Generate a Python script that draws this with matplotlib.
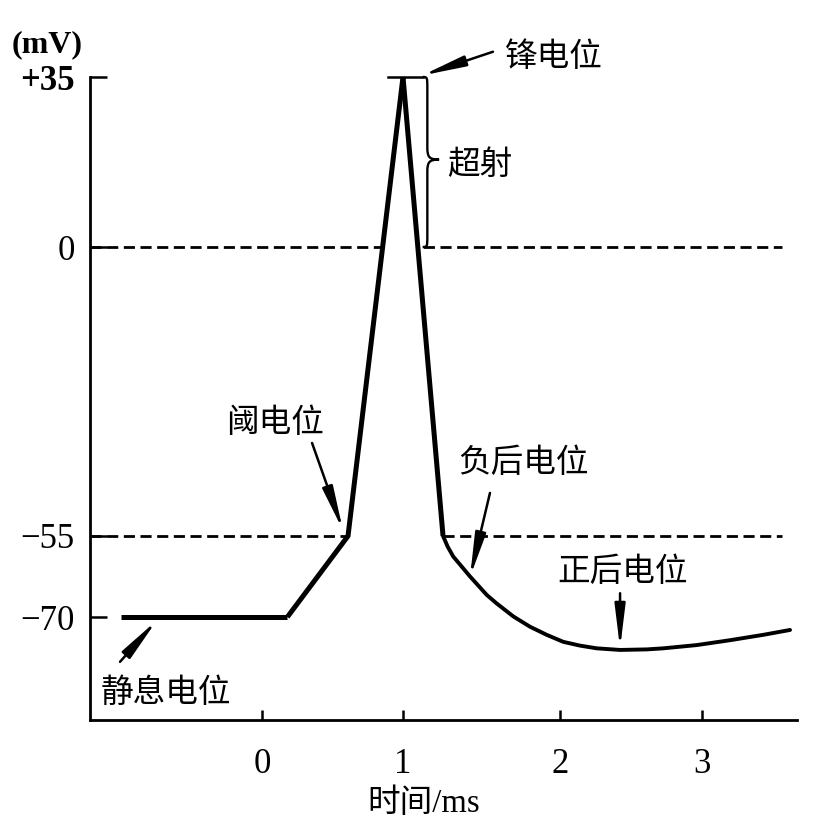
import numpy as np
import matplotlib
matplotlib.use("Agg")
import matplotlib.pyplot as plt
from matplotlib.path import Path
from matplotlib.patches import PathPatch, Polygon

plt.rcParams['font.family'] = ['Liberation Serif', 'Noto Sans CJK SC', 'DejaVu Sans']

# ---------------- data ----------------
# membrane potential trace (time in ms, potential in mV)
baseline_t = [-1.0, 0.18]
baseline_v = [-70, -70]
rise_t = [0.18, 0.61, 1.0]
rise_v = [-70, -55, 35]
fall_t = [1.0, 1.255]
fall_v = [35, -55]
after_t = [1.255, 1.285, 1.320, 1.427, 1.533, 1.597, 1.703, 1.809, 1.915, 2.023, 2.141,
           2.258, 2.423, 2.611, 2.728, 2.963, 3.197, 3.432, 3.62]
after_v = [-55, -57.0, -58.8, -62.5, -65.9, -67.5, -69.9, -71.8, -73.3, -74.6, -75.3,
           -75.8, -76.1, -76.0, -75.8, -75.2, -74.3, -73.3, -72.4]

ref_levels = [0, -55]          # dashed reference lines
ref_end = 3.56
peak_v = 35
threshold_t = 0.61
threshold_v = -55

x_ticks = [0, 1, 2, 3]
x_ticklabels = ['0', '1', '2', '3']
y_ticks = [35, 0, -55, -70]
y_ticklabels = ['+35', '0', '\u221255', '\u221270']

# schematic (non-uniform) axis scales of the drawing: value -> drawing position
x_scale_vals = [-5, 0, 1, 2, 3, 8]
x_scale_pos = [-443, 262, 403, 560, 702, 1412]
y_scale_vals = [-200, -70, -55, 0, 35, 200]
y_scale_pos = [1319, 617, 536, 247, 77, -724]

# ---------------- scales ----------------
XV = np.array(x_scale_vals, float); XP = np.array(x_scale_pos, float)
YV = np.array(y_scale_vals, float); YP = -np.array(y_scale_pos, float)

def fx(v):
    return np.interp(np.asarray(v, float), XV, XP)
def ix(u):
    return np.interp(np.asarray(u, float), XP, XV)
def fy(v):
    return np.interp(np.asarray(v, float), YV, YP)
def iy(u):
    return np.interp(np.asarray(u, float), YP, YV)

W, H = 822, 832
fig = plt.figure(figsize=(W / 100, H / 100), dpi=100)
ax = fig.add_axes([90 / W, (H - 720) / H, 707 / W, (720 - 77) / H])
ax.set_xscale('function', functions=(fx, ix))
ax.set_yscale('function', functions=(fy, iy))
ax.set_xlim(ix(90), ix(797))
ax.set_ylim(iy(-720), iy(-77))

for s in ['top', 'right']:
    ax.spines[s].set_visible(False)
for s in ['left', 'bottom']:
    ax.spines[s].set_linewidth(2.0)

ax.set_xticks(x_ticks)
ax.set_xticklabels(x_ticklabels)
ax.set_yticks(y_ticks)
ax.set_yticklabels(y_ticklabels)
ax.tick_params(axis='x', direction='in', length=7, width=1.8, pad=20, labelsize=25)
ax.tick_params(axis='y', direction='in', length=12, width=1.8, pad=11, labelsize=25)
ax.get_yticklabels()[0].set_fontweight('bold')
ax.xaxis.set_minor_locator(matplotlib.ticker.NullLocator())
ax.yaxis.set_minor_locator(matplotlib.ticker.NullLocator())

# ---------------- reference dashed lines ----------------
x_left = ax.get_xlim()[0]
dash = dict(color='black', lw=2.0, ls=(0, (4, 2)), zorder=1)
ax.plot([x_left, ref_end], [ref_levels[0]] * 2, **dash)
ax.plot([x_left, threshold_t], [ref_levels[1]] * 2, **dash)
ax.plot([fall_t[-1], ref_end], [ref_levels[1]] * 2, **dash)

# white inside of the spike hides the dashed line
ax.add_patch(Polygon([[rise_t[1], rise_v[1]], [rise_t[2], rise_v[2]], [fall_t[1], fall_v[1]]],
                     closed=True, facecolor='white', edgecolor='none', zorder=2))

# ---------------- trace ----------------
lw_trace = 3.6
kw = dict(color='black', solid_joinstyle='miter', solid_capstyle='butt', zorder=3, clip_on=False)
ax.plot(baseline_t, baseline_v, lw=lw_trace, **kw)
ax.plot(rise_t, rise_v, lw=lw_trace, **kw)
ax.plot(fall_t, fall_v, lw=lw_trace, **kw)
ax.plot(after_t, after_v, lw=2.8, color='black', solid_joinstyle='round',
        solid_capstyle='round', zorder=3, clip_on=False)

# peak marker line
ax.plot([0.894, 1.127], [peak_v, peak_v], color='black', lw=1.8, zorder=3, clip_on=False)

# ---------------- brace for overshoot ----------------
xl, xt, xe = 1.155, 1.23, 1.125
yt, yb, ym = peak_v, 0, 18
verts = [(xe, yt), (xl, yt), (xl, yt), (xl, yt - 2.5),
         (xl, ym + 2.5),
         (xl, ym + 0.5), (xl + 0.012, ym), (xt, ym),
         (xl + 0.012, ym), (xl, ym - 0.5), (xl, ym - 2.5),
         (xl, yb + 2.5),
         (xl, yb), (xl, yb), (xe, yb)]
codes = [Path.MOVETO, Path.CURVE4, Path.CURVE4, Path.CURVE4,
         Path.LINETO,
         Path.CURVE4, Path.CURVE4, Path.CURVE4,
         Path.CURVE4, Path.CURVE4, Path.CURVE4,
         Path.LINETO,
         Path.CURVE4, Path.CURVE4, Path.CURVE4]
ax.add_patch(PathPatch(Path(verts, codes), facecolor='none', edgecolor='black', lw=1.7,
                       zorder=3, clip_on=False))

# ---------------- annotations ----------------
cjk = ['Noto Sans CJK SC', 'DejaVu Sans']
fs = 23.5
arrow = dict(arrowstyle='-|>,head_length=1.3,head_width=0.16', color='black', lw=1.8,
             shrinkA=0, shrinkB=0, mutation_scale=20)

def arrow_to(tip, tail):
    ax.annotate('', xy=tip, xytext=tail, arrowprops=arrow, annotation_clip=False, zorder=4)

arrow_to((1.12, 35.3), (1.573, 40.2))
ax.text(1.65, 39.2, '锋电位', family=cjk, fontsize=fs, ha='left', va='center', clip_on=False)

ax.text(1.28, 16.9, '超射', family=cjk, fontsize=fs, ha='left', va='center')

arrow_to((0.574, -53.9), (0.355, -37.3))
ax.text(0.089, -33.5, '阈电位', family=cjk, fontsize=fs, ha='center', va='center')

arrow_to((1.427, -62.6), (1.554, -46.8))
ax.text(1.767, -41.1, '负后电位', family=cjk, fontsize=fs, ha='center', va='center')

arrow_to((2.423, -75.8), (2.423, -65.6))
ax.text(2.437, -61.7, '正后电位', family=cjk, fontsize=fs, ha='center', va='center')

arrow_to((-0.745, -70.6), (-1.007, -78.3))
ax.text(-0.68, -84.1, '静息电位', family=cjk, fontsize=fs, ha='center', va='center')

# axis titles
fig.text(47.5 / W, 1 - 45 / H, '(mV)', family=['Liberation Serif'], fontsize=23,
         fontweight='bold', ha='center', va='center')
ax.set_xlabel('时间/ms', family=['Liberation Serif', 'Noto Sans CJK SC'], fontsize=fs)
ax.xaxis.set_label_coords((424 - 90) / 707, (720 - 788) / 643)

fig.savefig('out.png', dpi=100, facecolor='white')
